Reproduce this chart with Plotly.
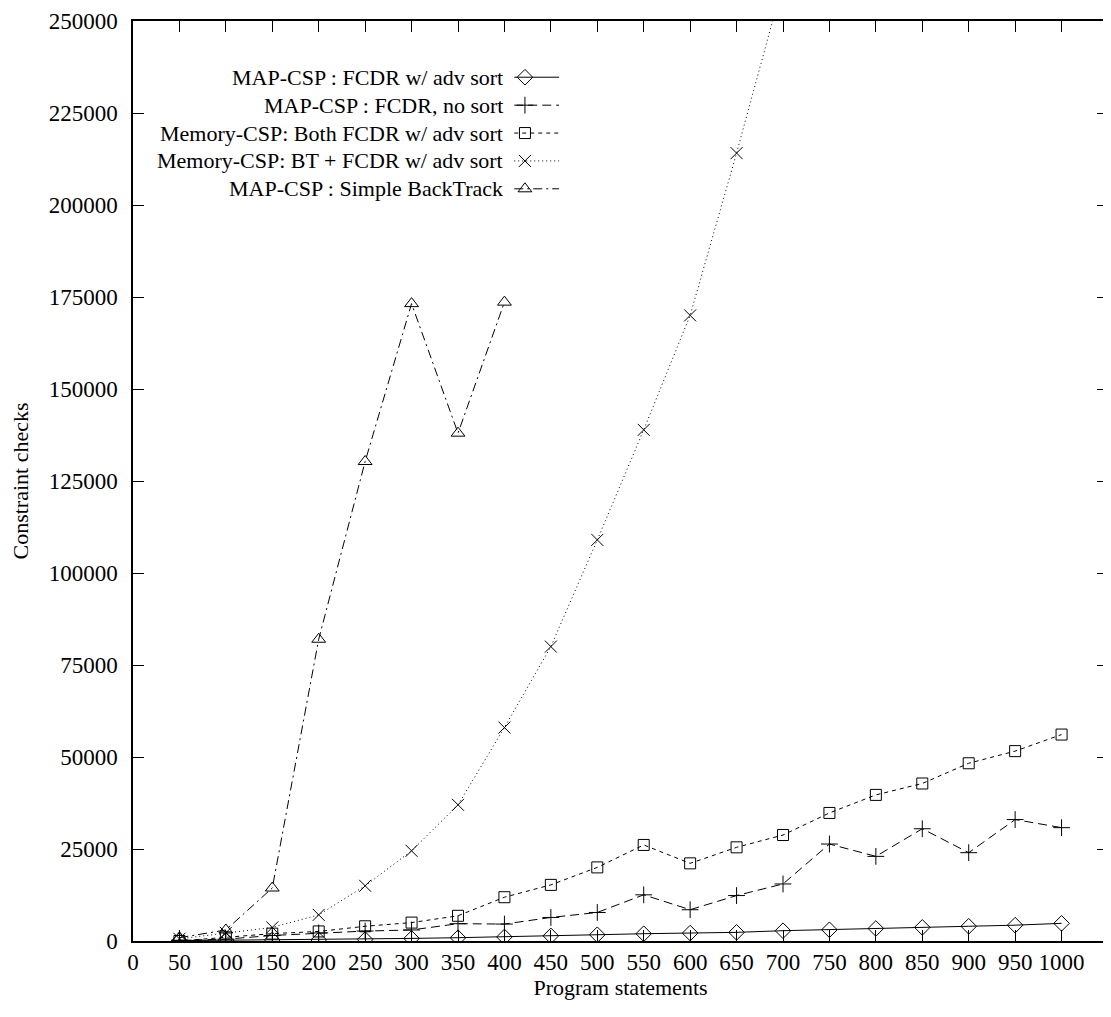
import plotly.graph_objects as go

x_all = [50, 100, 150, 200, 250, 300, 350, 400, 450, 500, 550, 600, 650, 700,
         750, 800, 850, 900, 950, 1000]

fcdr_adv = [100, 200, 300, 300, 400, 700, 900, 1100, 1400, 1700, 1980, 2150, 2350, 2800,
            3050, 3400, 3700, 4000, 4300, 4800]
fcdr_nosort = [200, 500, 1500, 2200, 2700, 3000, 4700, 4600, 6400, 7750, 12550, 8500, 12350, 15500,
               26350, 23000, 30500, 24000, 33000, 30800]
mem_both = [0, 1000, 2000, 2600, 4000, 5000, 6850, 11900, 15250, 20000, 26100, 21100, 25450, 28800,
            34800, 39700, 42800, 48300, 51600, 56100]
x_bt = [50, 100, 150, 200, 250, 300, 350, 400, 450, 500, 550, 600, 650, 700]
mem_bt = [600, 2200, 3700, 7100, 15000, 24500, 37000, 58000, 80000, 109000, 138900, 170000, 214100, 260400]
x_simple = [50, 100, 150, 200, 250, 300, 350, 400]
simple_bt = [900, 3000, 14400, 82000, 130300, 173200, 138000, 173600]

names = ["MAP-CSP : FCDR w/ adv sort",
         "MAP-CSP : FCDR, no sort",
         "Memory-CSP: Both FCDR w/ adv sort",
         "Memory-CSP: BT + FCDR w/ adv sort",
         "MAP-CSP : Simple BackTrack"]

x_ticks = list(range(0, 1001, 50))
y_ticks = list(range(0, 250001, 25000))

styles = [
    dict(dash="solid", symbol="diamond-open", size=12),
    dict(dash="9px,5px", symbol="cross-thin-open", size=12),
    dict(dash="4px,4px", symbol="square-open", size=11),
    dict(dash="1px,3px", symbol="x-thin-open", size=12),
    dict(dash="9px,4px,2px,4px", symbol="triangle-up-open", size=12),
]
series = [(x_all, fcdr_adv), (x_all, fcdr_nosort), (x_all, mem_both),
          (x_bt, mem_bt), (x_simple, simple_bt)]

FONT = "Liberation Serif"
fig = go.Figure()

for (xs, ys), st, nm in zip(series, styles, names):
    fig.add_trace(go.Scatter(
        x=xs, y=ys, mode="lines+markers", name=nm,
        line=dict(color="black", width=1, dash=st["dash"]),
        marker=dict(symbol=st["symbol"], size=st["size"], color="black",
                    line=dict(color="black", width=1)),
        cliponaxis=True, showlegend=False))

# manual gnuplot-style legend (text right-aligned, sample on the right)
leg_rows = [0.9389, 0.9085, 0.8782, 0.8479, 0.8176]
for nm, st, yr in zip(names, styles, leg_rows):
    fig.add_trace(go.Scatter(
        x=[0.391, 0.437], y=[yr, yr], mode="lines", xaxis="x2", yaxis="y2",
        line=dict(color="black", width=1, dash=st["dash"]), showlegend=False,
        hoverinfo="skip"))
    fig.add_trace(go.Scatter(
        x=[0.402], y=[yr], mode="markers", xaxis="x2", yaxis="y2",
        marker=dict(symbol=st["symbol"], size=st["size"], color="black",
                    line=dict(color="black", width=1)),
        showlegend=False, hoverinfo="skip"))
    fig.add_annotation(x=0.382, y=yr, xref="paper", yref="paper", text=nm,
                       showarrow=False, xanchor="right", yanchor="middle",
                       font=dict(family=FONT, size=22, color="black"))

axis_common = dict(showline=True, linecolor="black", linewidth=1.5, mirror="allticks",
                   ticks="inside", ticklen=11, tickwidth=1.2, tickcolor="black",
                   showgrid=False, zeroline=False, ticklabeloverflow="allow",
                   tickfont=dict(family=FONT, size=23, color="black"))

# page body has an 8px default margin; figure size/margins compensate for it
fig.update_layout(
    width=1103, height=1009,
    margin=dict(l=125, r=1, t=10, b=76),
    plot_bgcolor="white", paper_bgcolor="white",
    showlegend=False,
    xaxis=dict(range=[0, 1050], tickvals=x_ticks, ticktext=[str(v) for v in x_ticks],
               title=dict(text="Program statements", font=dict(family=FONT, size=22, color="black"),
                          standoff=4),
               **axis_common),
    yaxis=dict(range=[0, 250000], tickvals=y_ticks, ticktext=[str(v) for v in y_ticks],
               title=dict(text="Constraint checks", font=dict(family=FONT, size=22, color="black"),
                          standoff=20),
               ticklabelstandoff=9,
               **axis_common),
    xaxis2=dict(range=[0, 1], overlaying="x", visible=False, fixedrange=True),
    yaxis2=dict(range=[0, 1], overlaying="y", visible=False, fixedrange=True),
)

fig.write_html("out.html")
